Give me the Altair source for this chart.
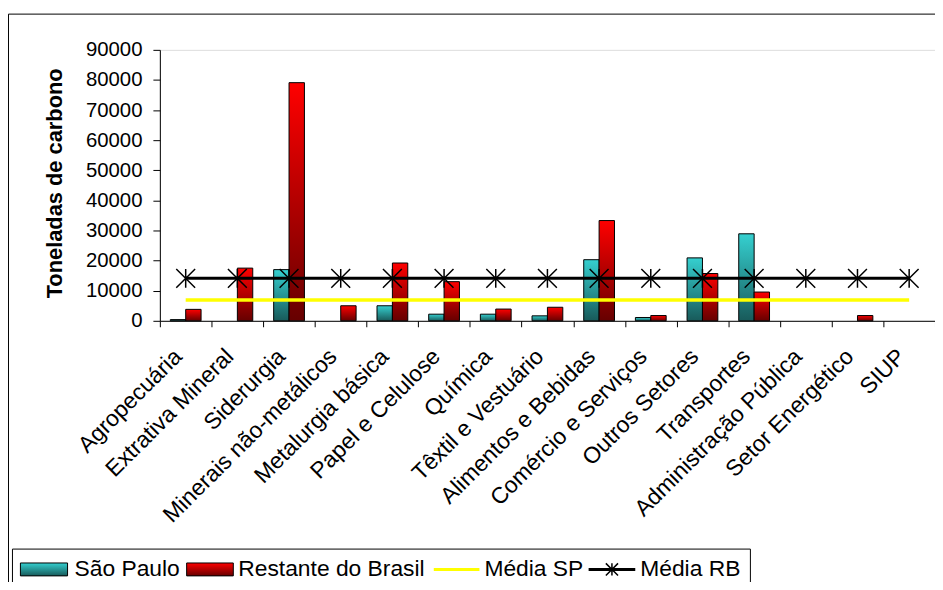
import altair as alt
import pandas as pd

setores = ["Agropecuária", "Extrativa Mineral", "Siderurgia", "Minerais não-metálicos",
           "Metalurgia básica", "Papel e Celulose", "Química", "Têxtil e Vestuário",
           "Alimentos e Bebidas", "Comércio e Serviços", "Outros Setores", "Transportes",
           "Administração Pública", "Setor Energético", "SIUP"]
sao_paulo = [400, 0, 17000, 0, 5000, 2200, 2200, 1650, 20300, 1100, 20900, 28900, 0, 0, 0]
restante = [3800, 17500, 79100, 5000, 19200, 13000, 3900, 4500, 33300, 1750, 15700, 9550, 0, 1750, 0]
media_sp = [6900, 6900, 6900, 6900, 6900, 6900, 6900, 6900, 6900, 6900, 6900, 6900, 6900, 6900, 6900]
media_rb = [14100, 14100, 14100, 14100, 14100, 14100, 14100, 14100, 14100, 14100, 14100, 14100, 14100, 14100, 14100]
y_ticks = [0, 10000, 20000, 30000, 40000, 50000, 60000, 70000, 80000, 90000]

df = pd.DataFrame({"setor": setores, "sp": sao_paulo, "rb": restante,
                   "msp": media_sp, "mrb": media_rb})
one = pd.DataFrame({"k": [0]})

FONT = "Liberation Sans"
TITLE = "Toneladas de carbono"

teal = alt.Gradient(gradient="linear", x1=0, x2=0, y1=0, y2=1,
                    stops=[alt.GradientStop(color="#35D0D0", offset=0),
                           alt.GradientStop(color="#185A5A", offset=1)])
red = alt.Gradient(gradient="linear", x1=0, x2=0, y1=0, y2=1,
                   stops=[alt.GradientStop(color="#FF0000", offset=0),
                          alt.GradientStop(color="#660000", offset=1)])
asterisk = "M-1,-1L1,1M-1,1L1,-1M0,-1L0,1"

xscale = alt.Scale(domain=setores, paddingInner=0, paddingOuter=0)
xaxis = alt.Axis(title=None, labelAngle=-45, labelAlign="right", labelBaseline="middle",
                 labelFontSize=23, labelFont=FONT, labelColor="black", labelPadding=26,
                 labelOffset=-8, tickBand="extent", tickSize=6, tickColor="black",
                 domainColor="black", labelLimit=400)
yscale = alt.Scale(domain=[0, 90000], nice=False)
yaxis = alt.Axis(values=y_ticks, format="d", grid=False, tickSize=7, tickColor="black",
                 domainColor="black", labelFontSize=20.5, labelFont=FONT, labelColor="black",
                 labelPadding=11, titleFontSize=22, titleFont=FONT, titleFontWeight="bold",
                 titleColor="black", titleAngle=-90, titleX=-106, titleY=134,
                 titleAlign="center", titleBaseline="middle")

X = alt.X("setor:N", sort=setores, scale=xscale, axis=xaxis)

def Y(field):
    return alt.Y(f"{field}:Q", scale=yscale, axis=yaxis, title=TITLE)

base = alt.Chart(df)

frame = alt.Chart(one).mark_rect(fillOpacity=0, stroke="black", strokeWidth=1).encode(
    x=alt.value(-152.5), x2=alt.value(800), y=alt.value(-36), y2=alt.value(700))

bars_sp = base.transform_filter("datum.sp > 0").mark_bar(
    fill=teal, stroke="black", strokeWidth=1, width=15.5, xOffset=-7.75).encode(x=X, y=Y("sp"))
bars_rb = base.transform_filter("datum.rb > 0").mark_bar(
    fill=red, stroke="black", strokeWidth=1, width=15.5, xOffset=7.75).encode(x=X, y=Y("rb"))
line_sp = base.mark_line(color="#FFFF00", strokeWidth=3.5).encode(x=X, y=Y("msp"))
line_rb = base.mark_line(color="black", strokeWidth=3).encode(x=X, y=Y("mrb"))
stars = base.mark_point(shape=asterisk, size=361, stroke="black", strokeWidth=1.5,
                        filled=False, opacity=1).encode(x=X, y=Y("mrb"))

# legend
lg = []
lg.append(alt.Chart(one).mark_rect(fillOpacity=0, stroke="black", strokeWidth=1).encode(
    x=alt.value(-148.5), x2=alt.value(595), y=alt.value(503), y2=alt.value(700)))
lg.append(alt.Chart(one).mark_rect(fill=teal, stroke="black", strokeWidth=1).encode(
    x=alt.value(-140.5), x2=alt.value(-93), y=alt.value(517), y2=alt.value(530)))
lg.append(alt.Chart(one).mark_rect(fill=red, stroke="black", strokeWidth=1).encode(
    x=alt.value(27), x2=alt.value(74), y=alt.value(517), y2=alt.value(530)))
lg.append(alt.Chart(one).mark_rule(color="#FFFF00", strokeWidth=3).encode(
    x=alt.value(276), x2=alt.value(322), y=alt.value(523.5)))
lg.append(alt.Chart(one).mark_rule(color="black", strokeWidth=3).encode(
    x=alt.value(432), x2=alt.value(479), y=alt.value(523.5)))
lg.append(alt.Chart(one).mark_point(shape=asterisk, size=150, stroke="black", strokeWidth=1.5,
                                    filled=False, opacity=1).encode(
    x=alt.value(455.5), y=alt.value(523.5)))
for txt, xpos in [("São Paulo", -86), ("Restante do Brasil", 79),
                  ("Média SP", 327), ("Média RB", 484)]:
    lg.append(alt.Chart(one).mark_text(text=txt, align="left", baseline="middle",
                                       fontSize=23, font=FONT, color="black").encode(
        x=alt.value(xpos), y=alt.value(523)))

chart = alt.layer(frame, bars_sp, bars_rb, line_sp, line_rb, stars, *lg).properties(
    width=781, height=273,
    autosize=alt.AutoSizeParams(type="none"),
    padding={"left": 153, "top": 40, "right": 0, "bottom": 261},
).configure_view(stroke="#888888", strokeWidth=1.5).configure(font=FONT)

chart.save("out.html", embed_options={"renderer": "svg", "actions": False})
